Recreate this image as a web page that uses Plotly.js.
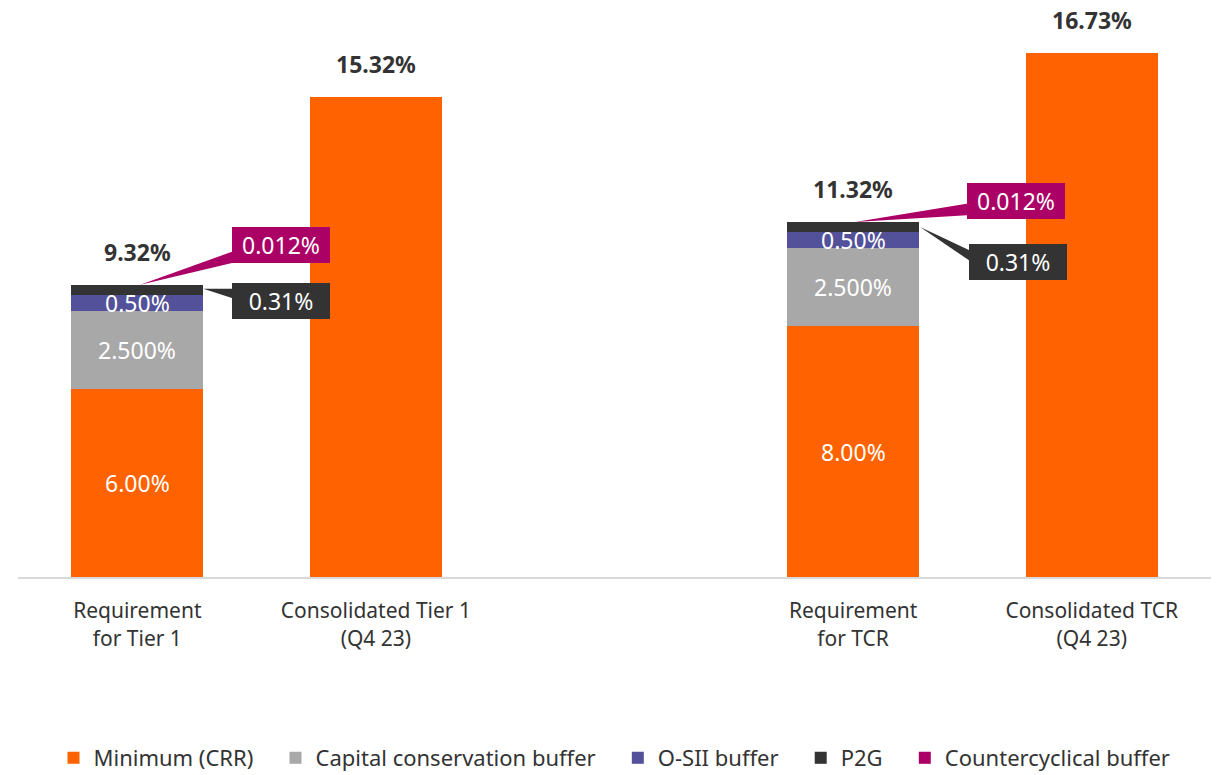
<!DOCTYPE html>
<html>
<head>
<meta charset="utf-8">
<script src="https://cdn.plot.ly/plotly-3.0.1.min.js"></script>
<style>html,body{margin:0;padding:0;background:#fff;}#chart{width:1216px;height:775px;}</style>
</head>
<body>
<div id="chart"></div>
<script>
// ---- data ----
const categories = ["Requirement<br>for Tier 1", "Consolidated Tier 1<br>(Q4 23)", "Requirement<br>for TCR", "Consolidated TCR<br>(Q4 23)"];
const catPos = [0, 1, 3, 4];
const minimumCRR = [6.00, 15.32, 8.00, 16.73];
const capitalConservation = [2.5, null, 2.5, null];
const osiiBuffer = [0.50, null, 0.50, null];
const p2g = [0.31, null, 0.31, null];
const countercyclical = [0.012, null, 0.012, null];
const totalLabels = ["9.32%", "15.32%", "11.32%", "16.73%"];
const minLabels = ["6.00%", null, "8.00%", null];
const ccbLabels = ["2.500%", null, "2.500%", null];
const osiiLabels = ["0.50%", null, "0.50%", null];
const p2gLabels = ["0.31%", null, "0.31%", null];
const ccybLabels = ["0.012%", null, "0.012%", null];
const seriesNames = ["Minimum (CRR)", "Capital conservation buffer", "O-SII buffer", "P2G", "Countercyclical buffer"];

const colors = ["#FF6200", "#A8A8A8", "#525199", "#333333", "#AB0066"];
const FONT = "Noto Sans, Open Sans, sans-serif";
const series = [minimumCRR, capitalConservation, osiiBuffer, p2g, countercyclical];
const PAD = "\u00A0\u00A0\u00A0";

const traces = series.map((vals, i) => ({
  type: "bar",
  name: seriesNames[i] + (i < series.length - 1 ? PAD : ""),
  x: catPos,
  y: vals,
  marker: {color: colors[i], line: {width: 0}},
  hoverinfo: "name+y"
}));

const totals = catPos.map((_, j) => series.reduce((s, arr) => s + (arr[j] || 0), 0));

const annotations = [];
// totals
catPos.forEach((x, j) => {
  annotations.push({x: x, y: totals[j], xref: "x", yref: "y", text: "<b>" + totalLabels[j] + "</b>",
    showarrow: false, yshift: 33, yanchor: "middle", font: {family: FONT, size: 23, color: "#333333"}});
});
// segment labels
const segLabels = [minLabels, ccbLabels, osiiLabels];
catPos.forEach((x, j) => {
  let base = 0;
  segLabels.forEach((labs, i) => {
    const v = series[i][j] || 0;
    if (labs[j]) {
      annotations.push({x: x, y: base + v / 2, xref: "x", yref: "y", text: labs[j], showarrow: false,
        yanchor: "middle", font: {family: FONT, size: 23, color: "#FFFFFF"}});
    }
    base += v;
  });
});

// callouts
const callouts = [
  {j: 0, labs: ccybLabels, color: colors[4], dx: 144, dy: 40, path: "M 3,0 L 100,35 L 100,23 Z"},
  {j: 0, labs: p2gLabels, color: colors[3], dx: 144, dy: -16, path: "M 66,-4 L 100,-4 L 100,-15 Z"},
  {j: 2, labs: ccybLabels, color: colors[4], dx: 163, dy: 21, path: "M 2,0 L 118,19 L 118,7 Z"},
  {j: 2, labs: p2gLabels, color: colors[3], dx: 165, dy: -40, path: "M 67,-5 L 120,-30 L 120,-41 Z"}
];
const shapes = [];
callouts.forEach(c => {
  const x = catPos[c.j], y = totals[c.j];
  annotations.push({x: x, y: y, xref: "x", yref: "y", text: c.labs[c.j], showarrow: false,
    xshift: c.dx, yshift: c.dy, xanchor: "center", yanchor: "middle",
    width: 96, height: 34, bgcolor: c.color, borderpad: 1, borderwidth: 0,
    font: {family: FONT, size: 23, color: "#FFFFFF"}});
  shapes.push({type: "path", xref: "x", yref: "y", xsizemode: "pixel", ysizemode: "pixel",
    xanchor: x, yanchor: y, path: c.path, fillcolor: c.color, line: {width: 0}, layer: "above"});
});

const layout = {
  width: 1216, height: 775,
  margin: {l: 18, r: 5, t: 20, b: 198, autoexpand: false},
  paper_bgcolor: "#FFFFFF", plot_bgcolor: "#FFFFFF",
  barmode: "stack",
  bargap: 0.447,
  font: {family: FONT, size: 21, color: "#333333"},
  showlegend: true,
  legend: {orientation: "h", x: 0.5, xanchor: "center", y: (577 - 758) / 557, yanchor: "middle",
    traceorder: "normal", font: {family: FONT, size: 22, color: "#333333"}, itemwidth: 30},
  xaxis: {range: [-0.5, 4.5], tickvals: catPos, ticktext: categories, showgrid: false, zeroline: false,
    showline: true, linecolor: "#D9D9D9", linewidth: 2, ticks: "", fixedrange: true, ticklabelstandoff: 14,
    tickfont: {family: FONT, size: 21, color: "#333333"}},
  yaxis: {range: [0, 17.77], visible: false, showgrid: false, zeroline: false, fixedrange: true},
  annotations: annotations,
  shapes: shapes
};

Plotly.newPlot("chart", traces, layout, {displayModeBar: false, staticPlot: true});
</script>
</body>
</html>
